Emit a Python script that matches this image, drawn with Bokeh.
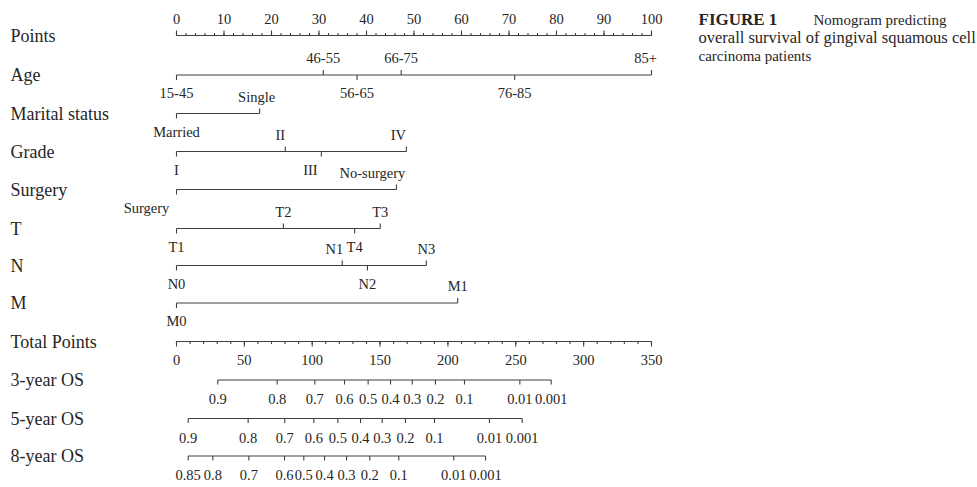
from bokeh.plotting import figure
from bokeh.models import Range1d, ColumnDataSource
from bokeh.embed import file_html
from bokeh.resources import INLINE
from bokeh.core.properties import value

# ---------------- data ----------------
points_major = list(range(0, 101, 10))
points_minor = list(range(0, 101, 2))
total_major = list(range(0, 351, 50))
total_minor = list(range(0, 351, 10))

age_levels = ["15-45", "46-55", "56-65", "66-75", "76-85", "85+"]
age_points = [0, 30.9, 38.0, 47.3, 71.2, 100]
marital_levels = ["Married", "Single"]
marital_points = [0, 17.5]
grade_levels = ["I", "II", "III", "IV"]
grade_points = [0, 22.9, 30.5, 48.4]
surgery_levels = ["Surgery", "No-surgery"]
surgery_points = [0, 46.3]
t_levels = ["T1", "T2", "T3", "T4"]
t_points = [0, 22.5, 42.9, 37.5]
n_levels = ["N0", "N1", "N2", "N3"]
n_points = [0, 34.9, 40.2, 52.6]
m_levels = ["M0", "M1"]
m_points = [0, 59.2]

os3_labels = ["0.9", "0.8", "0.7", "0.6", "0.5", "0.4", "0.3", "0.2", "0.1", "0.01", "0.001"]
os3_total = [30.4, 74.2, 101.9, 123.8, 141.2, 157.7, 173.7, 190.8, 212.2, 253.0, 276.1]
os5_labels = ["0.9", "0.8", "0.7", "0.6", "0.5", "0.4", "0.3", "0.2", "0.1", "0.01", "0.001"]
os5_total = [8.6, 52.8, 79.8, 101.2, 118.9, 135.6, 151.6, 168.7, 190.1, 230.6, 254.7]
os8_labels = ["0.85", "0.8", "0.7", "0.6", "0.5", "0.4", "0.3", "0.2", "0.1", "0.01", "0.001"]
os8_total = [8.6, 26.8, 53.3, 79.6, 93.8, 109.1, 125.3, 142.4, 163.8, 204.3, 227.7]

row_names = ["Points", "Age", "Marital status", "Grade", "Surgery", "T", "N", "M",
             "Total Points", "3-year OS", "5-year OS", "8-year OS"]

caption_head = "FIGURE 1"
caption_lines = ["Nomogram predicting",
                 "overall survival of gingival squamous cell",
                 "carcinoma patients"]

# ---------------- layout ----------------
W, H = 977, 487
ORIGIN = 0
X0_PAGE, PX_PER_PT = 176.0, 4.75
ROW_Y = [35, 74.5, 113, 151, 189, 228, 265, 302.5, 341, 379.5, 418, 455.5]
LBL_UP, LBL_DN = 17, 18
LINE_C, TEXT_C = "#404040", "#262626"
SERIF = value("Liberation Serif")
TICK_FS = "14.5px"
label_dx = {"Single": -3, "II": -5, "III": -11, "IV": -8, "No-surgery": -24,
            "N1": -8, "85+": -6, "Surgery": -30}


def page_x(px):
    return (px - X0_PAGE) / PX_PER_PT


x_start, x_end = page_x(ORIGIN), page_x(ORIGIN + W)
p = figure(width=W, height=H, x_range=Range1d(x_start, x_end),
           y_range=Range1d(ORIGIN + H, ORIGIN), output_backend="svg",
           toolbar_location=None, min_border=0, x_axis_location=None,
           y_axis_location=None)
p.grid.visible = False
p.outline_line_color = None
p.background_fill_color = "white"
p.extra_x_ranges = {"total": Range1d(x_start * 3.5, x_end * 3.5)}


def hline(x0, x1, y, rn="default"):
    p.segment(x0=[x0], y0=[y], x1=[x1], y1=[y], line_color=LINE_C, line_width=1.2,
              x_range_name=rn)


def ticks(xs, y, length, rn="default"):
    p.segment(x0=xs, y0=[y] * len(xs), x1=xs, y1=[y + length] * len(xs),
              line_color=LINE_C, line_width=1.1, x_range_name=rn)


def labels(xs, ys, texts, dxs, rn="default"):
    src = ColumnDataSource(dict(x=xs, y=ys, t=texts, dx=dxs))
    p.text(x="x", y="y", text="t", x_offset="dx", source=src, x_range_name=rn,
           text_font=SERIF, text_font_size=TICK_FS, text_color=TEXT_C,
           text_align="center", text_baseline="middle")


# row names
p.text(x=[page_x(10)] * len(row_names), y=ROW_Y, text=row_names, text_font=SERIF,
       text_font_size="18px", text_color=TEXT_C, text_align="left",
       text_baseline="middle")

# Points axis
y = ROW_Y[0]
hline(0, 100, y)
ticks(points_minor, y, -2.5)
ticks(points_major, y, -5)
labels(points_major, [y - LBL_UP] * len(points_major), [str(v) for v in points_major],
       [0] * len(points_major))

# variable rows
variables = [(age_levels, age_points), (marital_levels, marital_points),
             (grade_levels, grade_points), (surgery_levels, surgery_points),
             (t_levels, t_points), (n_levels, n_points), (m_levels, m_points)]
for i, (levs, pts) in enumerate(variables, start=1):
    y = ROW_Y[i]
    hline(min(pts), max(pts), y)
    order = sorted(range(len(pts)), key=lambda k: pts[k])
    xs, ys, ts, dxs = [], [], [], []
    for rank, k in enumerate(order):
        up = rank % 2 == 1
        ticks([pts[k]], y, -5 if up else 5)
        xs.append(pts[k])
        ys.append(y - LBL_UP if up else y + LBL_DN)
        ts.append(levs[k])
        dxs.append(label_dx.get(levs[k], 0))
    labels(xs, ys, ts, dxs)

# Total points axis
y = ROW_Y[8]
hline(0, 350, y, "total")
ticks(total_minor, y, 2.5, "total")
ticks(total_major, y, 5, "total")
labels(total_major, [y + LBL_DN] * len(total_major), [str(v) for v in total_major],
       [0] * len(total_major), "total")

# survival rows
for row, (labs, tot) in zip([9, 10, 11], [(os3_labels, os3_total), (os5_labels, os5_total),
                                          (os8_labels, os8_total)]):
    y = ROW_Y[row]
    hline(min(tot), max(tot), y, "total")
    ticks(tot, y, 4.5, "total")
    labels(tot, [y + 19] * len(tot), labs, [0] * len(tot), "total")

# caption
p.text(x=[page_x(698)], y=[19], text=[caption_head], text_font=SERIF,
       text_font_size="17px", text_font_style="bold", text_color=TEXT_C,
       text_align="left", text_baseline="middle")
p.text(x=[page_x(813)], y=[19], text=[caption_lines[0]], text_font=SERIF,
       text_font_size="15px", text_color=TEXT_C, text_align="left", text_baseline="middle")
p.text(x=[page_x(698)], y=[37], text=[caption_lines[1]], text_font=SERIF,
       text_font_size="16.5px", text_color=TEXT_C, text_align="left", text_baseline="middle")
p.text(x=[page_x(698)], y=[55], text=[caption_lines[2]], text_font=SERIF,
       text_font_size="15px", text_color=TEXT_C, text_align="left", text_baseline="middle")

open("out.html", "w").write(file_html(p, INLINE))
